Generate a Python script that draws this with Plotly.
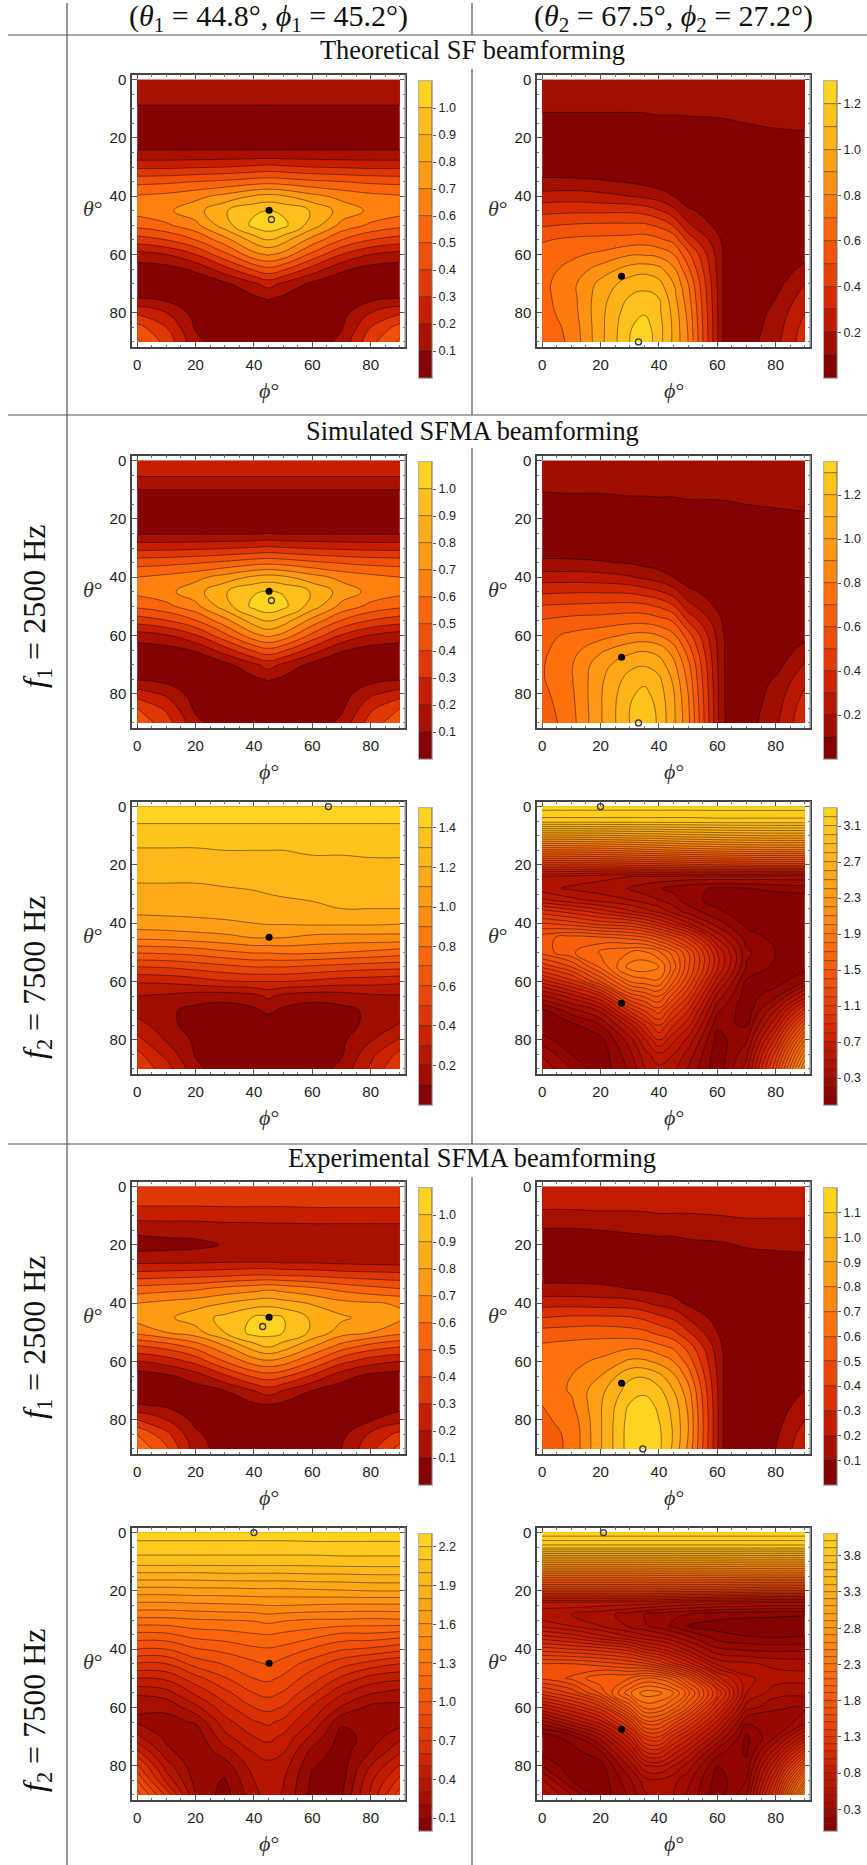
import plotly.graph_objects as go
from plotly.colors import sample_colorscale

PAGE_W, PAGE_H = 867, 1865

PHI_L = [0, 10, 20, 30, 40, 45, 50, 60, 70, 80, 90]
PHI_R = [0, 10, 20, 30, 35, 40, 45, 50, 60, 70, 80, 90]
PHI_B = [0, 10, 20, 30, 35, 40, 45, 50, 62, 70, 80, 90]
THETA = [0, 5, 10, 15, 20, 25, 30, 35, 40, 45, 50, 55, 60, 65, 70, 75, 80, 85, 90]
THETA_F = [0, 5, 10, 15, 20, 24, 28, 32, 36, 40, 45, 50, 55, 60, 65, 70, 75, 80, 85, 90]

Z_A = [
 [.16,.16,.16,.16,.16,.16,.16,.16,.16,.16,.16],
 [.13,.13,.13,.13,.13,.13,.13,.13,.13,.13,.13],
 [.09,.09,.09,.09,.09,.09,.09,.09,.09,.09,.09],
 [.05,.05,.05,.05,.05,.05,.05,.05,.05,.05,.05],
 [.05,.05,.05,.05,.05,.05,.05,.05,.05,.05,.05],
 [.11,.11,.11,.11,.11,.11,.11,.11,.11,.11,.11],
 [.28,.28,.29,.30,.32,.33,.32,.30,.29,.28,.28],
 [.47,.48,.50,.52,.55,.56,.55,.52,.50,.48,.47],
 [.61,.63,.67,.73,.81,.83,.81,.73,.67,.63,.61],
 [.64,.68,.76,.89,.98,1.0,.98,.89,.76,.68,.64],
 [.53,.58,.67,.85,1.03,1.07,1.03,.85,.67,.58,.53],
 [.35,.40,.50,.66,.84,.90,.84,.66,.50,.40,.35],
 [.16,.20,.30,.47,.67,.71,.67,.47,.30,.20,.16],
 [.05,.06,.12,.26,.42,.47,.42,.26,.12,.06,.05],
 [.03,.03,.03,.08,.18,.24,.18,.08,.03,.03,.03],
 [.10,.07,.02,.03,.08,.11,.08,.03,.02,.07,.10],
 [.28,.20,.06,.03,.02,.02,.02,.03,.06,.20,.28],
 [.44,.30,.09,.03,.03,.03,.03,.03,.09,.30,.44],
 [.52,.37,.13,.03,.04,.04,.04,.03,.13,.37,.52],
]
Z_B = [
 [.15,.15,.15,.15,.15,.15,.15,.15,.15,.15,.15,.15],
 [.13,.13,.13,.13,.13,.13,.13,.13,.13,.13,.14,.14],
 [.11,.11,.11,.11,.11,.115,.115,.115,.12,.125,.13,.13],
 [.07,.07,.07,.07,.075,.08,.08,.085,.09,.10,.115,.12],
 [.04,.04,.04,.04,.045,.05,.05,.05,.05,.06,.07,.08],
 [.02,.02,.02,.02,.02,.02,.02,.02,.02,.03,.03,.04],
 [.05,.04,.03,.03,.02,.02,.02,.01,.01,.01,.02,.02],
 [.12,.12,.11,.09,.07,.05,.02,.02,.01,.01,.01,.01],
 [.24,.25,.23,.20,.18,.15,.10,.03,.01,.01,.01,.01],
 [.37,.38,.38,.38,.36,.31,.23,.12,.02,.01,.01,.01],
 [.49,.51,.52,.52,.52,.48,.39,.22,.04,.01,.01,.02],
 [.59,.62,.63,.64,.65,.62,.57,.37,.08,.01,.01,.03],
 [.64,.68,.72,.79,.79,.77,.70,.53,.095,.01,.02,.06],
 [.66,.73,.84,.94,.96,.93,.82,.62,.095,.02,.03,.13],
 [.67,.77,.93,1.05,1.07,1.03,.90,.70,.095,.02,.06,.20],
 [.67,.76,.96,1.11,1.13,1.10,.94,.74,.095,.02,.10,.25],
 [.66,.75,.97,1.16,1.19,1.12,.97,.77,.095,.03,.13,.30],
 [.64,.73,.97,1.19,1.25,1.14,.98,.79,.095,.04,.15,.34],
 [.63,.72,.97,1.20,1.28,1.14,.98,.80,.095,.05,.17,.36],
]
Z_D = [
 [.27,.27,.27,.27,.27,.27,.27,.27,.27,.27,.27],
 [.21,.21,.21,.21,.21,.21,.21,.21,.21,.21,.21],
 [.10,.10,.10,.10,.10,.10,.10,.10,.10,.10,.10],
 [.05,.05,.05,.05,.05,.05,.05,.05,.05,.05,.05],
 [.04,.04,.04,.04,.04,.04,.04,.04,.04,.04,.04],
 [.09,.09,.09,.09,.09,.10,.09,.09,.09,.09,.09],
 [.27,.27,.28,.29,.31,.32,.31,.29,.28,.27,.27],
 [.46,.47,.49,.52,.56,.57,.56,.52,.49,.47,.46],
 [.60,.63,.67,.74,.82,.84,.82,.74,.67,.63,.60],
 [.63,.67,.76,.89,.99,1.01,.99,.89,.76,.67,.63],
 [.52,.57,.67,.85,1.03,1.07,1.03,.85,.67,.57,.52],
 [.34,.39,.49,.66,.85,.91,.85,.66,.49,.39,.34],
 [.15,.19,.29,.47,.67,.72,.67,.47,.29,.19,.15],
 [.05,.06,.11,.25,.42,.47,.42,.25,.11,.06,.05],
 [.03,.03,.03,.07,.18,.24,.18,.07,.03,.03,.03],
 [.09,.06,.02,.03,.08,.11,.08,.03,.02,.06,.09],
 [.25,.18,.05,.03,.02,.02,.02,.03,.05,.18,.25],
 [.40,.28,.08,.03,.03,.03,.03,.03,.08,.28,.40],
 [.47,.35,.13,.03,.04,.04,.04,.03,.13,.35,.47],
]
Z_E = [
 [.16,.16,.16,.16,.16,.16,.16,.15,.15,.15,.15,.15],
 [.14,.14,.14,.14,.14,.14,.14,.14,.14,.14,.14,.14],
 [.105,.11,.11,.115,.115,.12,.12,.12,.125,.13,.13,.13],
 [.07,.07,.07,.08,.08,.08,.08,.09,.09,.10,.11,.12],
 [.04,.04,.04,.04,.045,.05,.05,.05,.05,.06,.07,.08],
 [.02,.02,.02,.02,.02,.02,.02,.02,.02,.03,.03,.04],
 [.05,.04,.03,.03,.025,.02,.02,.01,.01,.01,.01,.02],
 [.12,.12,.11,.09,.07,.05,.03,.02,.01,.01,.01,.01],
 [.25,.25,.24,.21,.18,.15,.10,.04,.01,.01,.01,.01],
 [.38,.39,.39,.38,.35,.31,.24,.13,.02,.01,.01,.01],
 [.51,.52,.53,.54,.53,.49,.41,.24,.05,.01,.01,.01],
 [.61,.64,.65,.67,.67,.64,.59,.39,.09,.01,.01,.03],
 [.67,.72,.76,.82,.83,.80,.72,.55,.105,.02,.02,.07],
 [.68,.76,.88,.97,.99,.96,.85,.65,.105,.02,.03,.14],
 [.69,.79,.96,1.07,1.09,1.05,.93,.73,.105,.02,.06,.21],
 [.69,.79,.98,1.14,1.17,1.12,.98,.77,.105,.03,.11,.27],
 [.67,.78,.99,1.18,1.23,1.15,1.01,.80,.105,.03,.14,.32],
 [.65,.77,.99,1.20,1.28,1.17,1.02,.82,.105,.04,.16,.36],
 [.63,.76,.99,1.20,1.29,1.18,1.02,.83,.105,.05,.18,.38],
]
Z_F = [
 [1.49,1.49,1.49,1.49,1.49,1.49,1.49,1.49,1.49,1.49,1.49],
 [1.41,1.41,1.41,1.41,1.41,1.41,1.41,1.41,1.41,1.41,1.41],
 [1.35,1.35,1.35,1.35,1.35,1.35,1.35,1.35,1.35,1.35,1.35],
 [1.29,1.29,1.29,1.30,1.30,1.30,1.30,1.31,1.31,1.32,1.32],
 [1.25,1.25,1.25,1.26,1.27,1.27,1.27,1.28,1.28,1.28,1.28],
 [1.21,1.21,1.21,1.22,1.23,1.23,1.24,1.25,1.25,1.25,1.25],
 [1.17,1.17,1.17,1.18,1.19,1.20,1.21,1.22,1.23,1.23,1.23],
 [1.13,1.13,1.13,1.13,1.14,1.15,1.16,1.18,1.20,1.20,1.20],
 [1.06,1.07,1.08,1.09,1.10,1.11,1.11,1.12,1.12,1.12,1.11],
 [.92,.93,.95,.97,1.00,1.00,1.00,.97,.96,.96,.96],
 [.71,.72,.74,.78,.81,.81,.82,.82,.80,.78,.75],
 [.50,.51,.54,.57,.60,.60,.60,.58,.56,.54,.53],
 [.31,.32,.35,.39,.40,.40,.40,.38,.35,.34,.32],
 [.20,.18,.15,.14,.17,.22,.17,.14,.15,.18,.19],
 [.15,.12,.07,.05,.08,.12,.08,.05,.07,.12,.15],
 [.25,.13,.06,.04,.04,.04,.04,.04,.06,.13,.21],
 [.33,.19,.08,.04,.03,.03,.03,.04,.08,.19,.31],
 [.43,.27,.09,.03,.03,.03,.03,.03,.09,.27,.43],
 [.48,.35,.13,.04,.03,.03,.03,.04,.13,.32,.50],
]
Z_G = [
 [3.25,3.25,3.25,3.25,3.25,3.25,3.25,3.25,3.25,3.25,3.25,3.25],
 [3.05,3.05,3.05,3.05,3.05,3.05,3.05,3.05,3.06,3.06,3.06,3.06],
 [2.36,2.37,2.38,2.40,2.41,2.42,2.44,2.45,2.47,2.49,2.50,2.50],
 [1.67,1.68,1.70,1.73,1.75,1.77,1.79,1.81,1.84,1.86,1.87,1.87],
 [1.00,1.00,1.00,1.02,1.03,1.04,1.05,1.07,1.09,1.11,1.12,1.12],
 [.49,.47,.44,.40,.39,.38,.38,.37,.37,.37,.36,.36],
 [.44,.38,.34,.29,.25,.21,.17,.13,.09,.10,.13,.16],
 [.62,.53,.46,.40,.35,.30,.24,.15,.05,.03,.03,.03],
 [.95,.86,.75,.62,.55,.47,.36,.26,.12,.03,.02,.02],
 [1.20,1.14,1.05,1.00,.92,.80,.65,.50,.24,.07,.03,.03],
 [1.46,1.55,1.52,1.47,1.42,1.30,1.15,.98,.48,.15,.07,.03],
 [1.44,1.58,1.72,1.80,1.82,1.72,1.55,1.30,.70,.22,.10,.04],
 [1.12,1.30,1.62,1.94,1.97,1.90,1.65,1.32,.72,.19,.07,.06],
 [.74,.95,1.30,1.70,1.75,1.78,1.50,1.20,.55,.08,.05,.20],
 [.37,.55,.80,1.33,1.42,1.50,1.25,1.00,.36,.04,.17,.55],
 [.07,.25,.42,.92,1.10,1.25,1.00,.80,.22,.03,.40,.95],
 [.03,.07,.20,.55,.80,1.00,.80,.63,.12,.09,.60,1.35],
 [.14,.03,.07,.35,.58,.80,.62,.47,.06,.18,.83,1.70],
 [.29,.10,.03,.27,.45,.58,.50,.36,.03,.27,1.05,2.00],
 [.37,.20,.03,.22,.39,.47,.43,.29,.03,.35,1.20,2.25],
]
Z_H = [
 [.36,.36,.36,.36,.36,.36,.36,.36,.36,.36,.36],
 [.33,.33,.33,.33,.33,.33,.33,.33,.33,.33,.33],
 [.24,.24,.24,.25,.25,.25,.25,.26,.26,.26,.26],
 [.12,.13,.13,.14,.14,.15,.15,.15,.15,.15,.15],
 [.06,.07,.08,.105,.115,.12,.12,.12,.13,.13,.13],
 [.15,.15,.15,.16,.16,.16,.15,.15,.14,.13,.13],
 [.33,.34,.35,.36,.38,.38,.37,.36,.34,.33,.32],
 [.54,.56,.58,.63,.66,.68,.66,.62,.57,.53,.50],
 [.70,.73,.76,.80,.85,.86,.84,.79,.73,.71,.69],
 [.74,.78,.85,.93,1.01,1.02,1.00,.88,.82,.76,.72],
 [.63,.70,.76,.90,1.04,1.04,1.00,.88,.75,.70,.63],
 [.38,.43,.53,.68,.85,.90,.85,.70,.55,.45,.40],
 [.19,.24,.33,.50,.65,.68,.65,.50,.33,.24,.20],
 [.05,.08,.15,.28,.42,.45,.42,.28,.14,.07,.05],
 [.04,.04,.05,.10,.20,.25,.20,.10,.05,.04,.04],
 [.11,.08,.03,.03,.08,.09,.07,.03,.03,.04,.06],
 [.30,.20,.07,.03,.03,.03,.03,.03,.05,.09,.16],
 [.50,.33,.12,.04,.03,.03,.03,.03,.07,.22,.33],
 [.58,.42,.15,.05,.04,.04,.04,.04,.10,.27,.44],
]
Z_I = [
 [.27,.27,.27,.27,.27,.27,.27,.27,.27,.27,.27,.27],
 [.24,.24,.24,.24,.25,.25,.25,.25,.25,.26,.26,.26],
 [.17,.17,.18,.18,.18,.19,.19,.19,.20,.21,.21,.21],
 [.09,.09,.10,.11,.115,.12,.12,.13,.14,.15,.15,.15],
 [.05,.05,.05,.06,.065,.07,.07,.08,.09,.11,.12,.12],
 [.03,.03,.03,.03,.03,.03,.03,.04,.05,.06,.07,.08],
 [.05,.05,.05,.04,.035,.03,.03,.03,.03,.03,.04,.05],
 [.13,.13,.12,.10,.085,.07,.05,.03,.02,.02,.03,.03],
 [.26,.26,.25,.24,.21,.17,.14,.08,.02,.02,.02,.02],
 [.40,.42,.42,.41,.38,.33,.28,.19,.03,.02,.02,.02],
 [.54,.55,.56,.54,.52,.47,.42,.31,.06,.02,.02,.02],
 [.62,.64,.65,.68,.67,.63,.58,.46,.09,.03,.03,.03],
 [.64,.67,.72,.82,.82,.77,.70,.56,.10,.03,.03,.04],
 [.65,.70,.80,.98,.99,.93,.82,.66,.10,.03,.03,.07],
 [.64,.71,.87,1.05,1.08,1.03,.90,.74,.10,.03,.03,.10],
 [.60,.68,.89,1.11,1.14,1.08,.96,.78,.10,.04,.04,.15],
 [.58,.64,.89,1.14,1.17,1.10,.98,.80,.10,.05,.06,.20],
 [.56,.62,.89,1.15,1.18,1.12,.99,.80,.10,.05,.08,.25],
 [.55,.62,.89,1.15,1.18,1.12,.98,.78,.10,.05,.10,.28],
]
Z_J = [
 [2.25,2.25,2.25,2.25,2.25,2.25,2.25,2.26,2.26,2.26,2.26],
 [2.16,2.16,2.16,2.16,2.16,2.16,2.16,2.16,2.16,2.16,2.16],
 [2.05,2.05,2.05,2.05,2.05,2.05,2.05,2.05,2.06,2.06,2.06],
 [1.85,1.85,1.85,1.86,1.86,1.86,1.86,1.87,1.87,1.88,1.88],
 [1.65,1.65,1.66,1.66,1.67,1.67,1.67,1.68,1.69,1.70,1.70],
 [1.46,1.46,1.47,1.48,1.49,1.50,1.50,1.49,1.48,1.48,1.48],
 [1.27,1.27,1.29,1.30,1.31,1.33,1.31,1.29,1.29,1.28,1.29],
 [1.07,1.08,1.14,1.16,1.19,1.20,1.18,1.14,1.08,1.08,1.05],
 [.90,.90,.99,1.03,1.08,1.09,1.07,.99,.91,.88,.83],
 [.69,.70,.84,.91,.98,1.01,.96,.85,.74,.66,.60],
 [.50,.52,.66,.79,.90,.92,.88,.74,.58,.46,.42],
 [.32,.36,.52,.67,.80,.83,.79,.62,.42,.31,.26],
 [.21,.22,.37,.56,.70,.73,.69,.48,.29,.17,.17],
 [.19,.17,.21,.46,.59,.62,.57,.39,.12,.11,.16],
 [.32,.17,.13,.37,.50,.53,.48,.28,.06,.14,.27],
 [.52,.23,.11,.26,.41,.45,.41,.17,.05,.20,.38],
 [.73,.35,.13,.15,.35,.37,.35,.11,.05,.30,.51],
 [.90,.47,.16,.09,.30,.34,.31,.08,.06,.38,.63],
 [1.05,.68,.20,.05,.27,.34,.29,.07,.09,.42,.76],
]
Z_K = [
 [4.08,4.08,4.08,4.08,4.08,4.08,4.08,4.08,4.08,4.08,4.08,4.08],
 [3.75,3.75,3.75,3.75,3.75,3.75,3.75,3.75,3.75,3.75,3.75,3.75],
 [2.95,2.95,2.95,2.95,2.95,2.95,2.95,2.95,2.95,2.96,2.96,2.96],
 [2.15,2.15,2.15,2.15,2.15,2.16,2.16,2.16,2.17,2.18,2.18,2.18],
 [1.35,1.35,1.35,1.35,1.35,1.35,1.35,1.34,1.33,1.30,1.28,1.27],
 [.68,.68,.67,.66,.65,.63,.60,.58,.55,.52,.50,.50],
 [.52,.50,.44,.36,.30,.26,.22,.20,.15,.13,.12,.11],
 [.67,.60,.50,.38,.32,.25,.18,.09,.05,.04,.04,.04],
 [.95,.88,.75,.62,.55,.50,.42,.33,.16,.11,.10,.11],
 [1.25,1.20,1.15,1.05,.90,.82,.70,.55,.32,.28,.27,.27],
 [1.60,1.60,1.55,1.48,1.42,1.30,1.12,.95,.57,.52,.47,.46],
 [1.62,1.72,1.88,1.90,2.00,1.98,1.85,1.60,.95,.62,.55,.54],
 [1.25,1.42,1.72,2.18,2.35,2.33,2.20,1.95,1.30,.60,.44,.43],
 [.80,1.00,1.25,1.82,2.12,2.10,1.95,1.70,1.05,.45,.32,.30],
 [.35,.60,.85,1.35,1.75,1.75,1.55,1.30,.78,.22,.22,.35],
 [.04,.15,.45,.95,1.35,1.40,1.15,.95,.52,.08,.30,.75],
 [.05,.05,.20,.65,1.00,1.05,.85,.68,.25,.08,.55,1.20],
 [.20,.03,.05,.42,.68,.72,.60,.45,.10,.13,.82,1.70],
 [.42,.10,.03,.28,.45,.48,.43,.33,.05,.20,1.05,2.25],
 [.56,.30,.03,.22,.38,.45,.40,.28,.04,.28,1.25,2.70],
]

TICKS = {
 "A": [.1,.2,.3,.4,.5,.6,.7,.8,.9,1.0],
 "B": [.2,.4,.6,.8,1.0,1.2],
 "D": [.1,.2,.3,.4,.5,.6,.7,.8,.9,1.0],
 "E": [.2,.4,.6,.8,1.0,1.2],
 "F": [.2,.4,.6,.8,1.0,1.2,1.4],
 "G": [.3,.7,1.1,1.5,1.9,2.3,2.7,3.1],
 "H": [.1,.2,.3,.4,.5,.6,.7,.8,.9,1.0],
 "I": [.1,.2,.3,.4,.5,.6,.7,.8,.9,1.0,1.1],
 "J": [.1,.4,.7,1.0,1.3,1.6,1.9,2.2],
 "K": [.3,.8,1.3,1.8,2.3,2.8,3.3,3.8],
}
Z_TOP = {"A":1.1,"B":1.3,"D":1.1,"E":1.35,"F":1.5,"G":3.3,"H":1.1,"I":1.2,"J":2.3,"K":4.1}
AXIS_TICKS = [0, 20, 40, 60, 80]
SOURCE_DOT = {1: (45.2, 44.8), 2: (27.2, 67.5)}
PEAK_RING = {"A":(46,48),"B":(33,90),"D":(46,48),"E":(33,90),"F":(65.5,0),
             "G":(20,0),"H":(43,48),"I":(34.5,90),"J":(40,0),"K":(21,0)}
PANELS = [("A",1,80,PHI_L,THETA,Z_A),("B",2,80,PHI_B,THETA,Z_B),
          ("D",1,461,PHI_L,THETA,Z_D),("E",2,461,PHI_B,THETA,Z_E),
          ("F",1,807,PHI_L,THETA,Z_F),("G",2,807,PHI_R,THETA_F,Z_G),
          ("H",1,1187,PHI_L,THETA,Z_H),("I",2,1187,PHI_B,THETA,Z_I),
          ("J",1,1533,PHI_L,THETA,Z_J),("K",2,1533,PHI_R,THETA_F,Z_K)]

SCALE = [[0,"#860200"],[.1,"#A81100"],[.2,"#C81E00"],[.3,"#E03805"],[.4,"#F05008"],
         [.5,"#FB660C"],[.6,"#FF800F"],[.7,"#FF9A13"],[.8,"#FFAD17"],[.9,"#FFBE1B"],[1,"#FFD31F"]]
LINE = "rgba(0,0,0,0.45)"
SANS = "Liberation Sans"
SERIF = "Liberation Serif"
INK = "#222222"
TOP_SHIFT = 4  # px the drawn page sits low at its top edge

def fx(p): return p / PAGE_W
def fy(p): return 1 - (p - TOP_SHIFT * (1 - p / PAGE_H)) / PAGE_H

fig = go.Figure()
layout = {}
annos, shapes = [], []
n = 0
COLX = {1: (132, 405, 419, 432, 93), 2: (537, 810, 824, 837, 498)}
for name, col, top, phi, theta, z in PANELS:
    n += 1
    x0, x1, bx0, bx1, lx = COLX[col]
    ax, ay, bx, by = n*2, n*2+1, n*2+40, n*2+41
    step = 0.1
    tops = Z_TOP[name]
    nlev = int((tops - 1e-6) // step)
    fig.add_trace(go.Contour(x=phi, y=theta, z=z, xaxis=f"x{ax}", yaxis=f"y{ay}",
        autocontour=False, contours=dict(start=step, end=nlev*step, size=step, coloring="fill"),
        colorscale=SCALE, showscale=False, line=dict(color=LINE, width=1, smoothing=1.3),
        hoverinfo="skip"))
    fig.add_trace(go.Scatter(x=[SOURCE_DOT[col][0]], y=[SOURCE_DOT[col][1]], mode="markers",
        xaxis=f"x{ax}", yaxis=f"y{ay}", cliponaxis=False, showlegend=False,
        marker=dict(size=7, color="black")))
    fig.add_trace(go.Scatter(x=[PEAK_RING[name][0]], y=[PEAK_RING[name][1]], mode="markers",
        xaxis=f"x{ax}", yaxis=f"y{ay}", cliponaxis=False, showlegend=False,
        marker=dict(size=6, symbol="circle-open", color="#333333", line=dict(width=1.3, color="#333333"))))
    common = dict(showgrid=False, zeroline=False, showline=True, linecolor="#444444",
        linewidth=1.5, mirror="ticks", ticks="inside", ticklen=5, tickwidth=1, tickcolor="#555555",
        tickvals=AXIS_TICKS, tickfont=dict(family=SANS, size=15, color=INK),
        minor=dict(dtick=5, ticks="inside", ticklen=2.5, tickcolor="#777777", tickwidth=1))
    xa = dict(common); xa.update(range=[-1.75, 91.75], domain=[fx(x0), fx(x1)], anchor=f"y{ay}", ticklabelstandoff=3)
    ya = dict(common); ya.update(range=[91.75, -1.75], domain=[fy(top+267), fy(top-5.5)], anchor=f"x{ax}", ticklabelstandoff=1)
    layout[f"xaxis{ax}"] = xa
    layout[f"yaxis{ay}"] = ya
    edges = [i*step for i in range(nlev+1)] + [tops]
    cols = sample_colorscale(SCALE, [i/nlev for i in range(nlev+1)])
    fig.add_trace(go.Bar(x=[0]*(nlev+1), base=edges[:-1], y=[edges[i+1]-edges[i] for i in range(nlev+1)],
        width=1, xaxis=f"x{bx}", yaxis=f"y{by}", showlegend=False, hoverinfo="skip",
        marker=dict(color=cols, line=dict(color=LINE, width=0.8))))
    layout[f"xaxis{bx}"] = dict(range=[-.5,.5], domain=[fx(bx0), fx(bx1)], anchor=f"y{by}",
        showgrid=False, zeroline=False, showline=True, mirror=True, linecolor="#b5b5b5", linewidth=1,
        ticks="", showticklabels=False)
    layout[f"yaxis{by}"] = dict(range=[0, tops], domain=[fy(top+298), fy(top+1)], anchor=f"x{bx}",
        side="right", showgrid=False, zeroline=False, showline=True, mirror=True, linecolor="#b5b5b5",
        linewidth=1, ticks="outside", ticklen=3, tickcolor="#555555", tickvals=TICKS[name],
        ticktext=[f"{t:.1f}" for t in TICKS[name]], tickfont=dict(family=SANS, size=12.5, color=INK))
    shapes.append(dict(type="line", xref=f"x{ax} domain", yref=f"y{ay} domain", x0=1, x1=1, y0=0, y1=1,
                       line=dict(color="#a8a8a8", width=1.5)))
    annos.append(dict(text="<i>θ</i>°", xref="paper", yref="paper", x=fx(lx), y=fy(top+128),
        xanchor="center", yanchor="middle", showarrow=False, font=dict(family=SERIF, size=22, color="#333333")))
    annos.append(dict(text="<i>ϕ</i>°", xref="paper", yref="paper", x=fx((x0+x1)/2), y=fy(top+310),
        xanchor="center", yanchor="middle", showarrow=False, font=dict(family=SERIF, size=22, color="#333333")))

def rule(x0, y0, x1, y1):
    shapes.append(dict(type="line", xref="paper", yref="paper", x0=fx(x0), x1=fx(x1), y0=fy(y0), y1=fy(y1),
                       line=dict(color="#555555", width=1.2)))
for yy in (35, 415, 1144):
    rule(8, yy, PAGE_W, yy)
rule(67, 3, 67, PAGE_H)
for a, b in ((3, 35), (69, 415), (448, 1144), (1177, PAGE_H)):
    rule(472, a, 472, b)

def text(s, x, y, size, angle=0):
    annos.append(dict(text=s, xref="paper", yref="paper", x=fx(x), y=fy(y), showarrow=False, textangle=angle,
                      xanchor="center", yanchor="middle", font=dict(family=SERIF, size=size, color="#111111")))
text("(<i>θ</i><sub>1</sub> = 44.8°, <i>ϕ</i><sub>1</sub> = 45.2°)", 268, 18, 30)
text("(<i>θ</i><sub>2</sub> = 67.5°, <i>ϕ</i><sub>2</sub> = 27.2°)", 673, 18, 30)
text("Theoretical SF beamforming", 472, 50, 26.4)
text("Simulated SFMA beamforming", 472, 431, 26.4)
text("Experimental SFMA beamforming", 472, 1158, 26.4)
text("<i>f</i><sub>1</sub> = 2500 Hz", 36, 607, 32, -90)
text("<i>f</i><sub>2</sub> = 7500 Hz", 36, 978, 32, -90)
text("<i>f</i><sub>1</sub> = 2500 Hz", 36, 1338, 32, -90)
text("<i>f</i><sub>2</sub> = 7500 Hz", 36, 1711, 32, -90)

fig.update_layout(width=PAGE_W, height=PAGE_H, autosize=False, margin=dict(l=0, r=0, t=0, b=0),
    paper_bgcolor="white", plot_bgcolor="white", showlegend=False, annotations=annos, shapes=shapes,
    bargap=0, **layout)
fig.write_html("out.html", config={"displayModeBar": False},
               post_script="document.body.style.margin='0';document.documentElement.style.overflow='hidden';")
